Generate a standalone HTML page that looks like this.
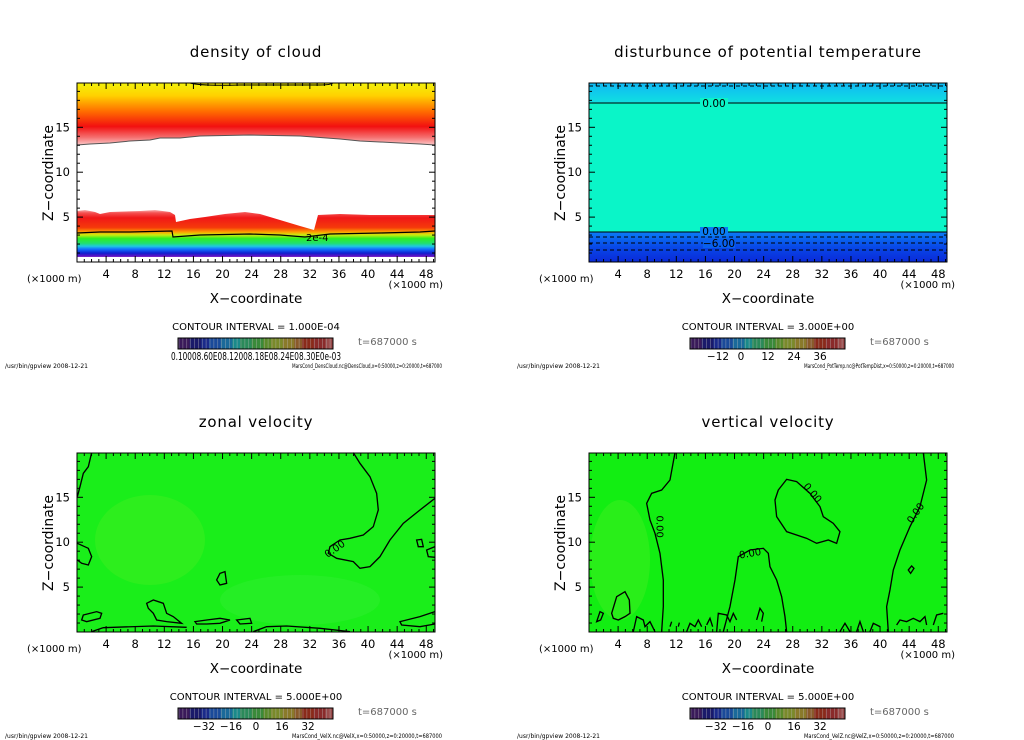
<!DOCTYPE html>
<html><head><meta charset="utf-8">
<style>
html,body{margin:0;padding:0;background:#fff;}
svg{display:block;font-family:"DejaVu Sans","Liberation Sans",sans-serif;}
</style></head><body>
<svg id="s" width="1024" height="740" xmlns="http://www.w3.org/2000/svg">
<defs>
<linearGradient id="cloudTop" x1="0" y1="83" x2="0" y2="147" gradientUnits="userSpaceOnUse">
<stop offset="0" stop-color="#f2f20a"/><stop offset="0.2" stop-color="#ffd000"/><stop offset="0.45" stop-color="#ff6a00"/><stop offset="0.68" stop-color="#f21010"/><stop offset="0.85" stop-color="#f57070"/><stop offset="1" stop-color="#fde0e0"/>
</linearGradient>
<linearGradient id="cloudBot" x1="0" y1="209" x2="0" y2="258" gradientUnits="userSpaceOnUse">
<stop offset="0" stop-color="#fbd0d0"/><stop offset="0.08" stop-color="#f45050"/><stop offset="0.18" stop-color="#f01818"/><stop offset="0.38" stop-color="#f53a0a"/><stop offset="0.47" stop-color="#ffa000"/><stop offset="0.53" stop-color="#c8ee10"/><stop offset="0.6" stop-color="#30ee20"/><stop offset="0.7" stop-color="#20e070"/><stop offset="0.76" stop-color="#20c8e0"/><stop offset="0.82" stop-color="#1070ff"/><stop offset="0.9" stop-color="#1020d0"/><stop offset="0.97" stop-color="#6a10c0"/><stop offset="1" stop-color="#ffffff"/>
</linearGradient>
<linearGradient id="ptBot" x1="0" y1="232" x2="0" y2="262" gradientUnits="userSpaceOnUse">
<stop offset="0" stop-color="#0a7cf5"/><stop offset="0.5" stop-color="#0848e8"/><stop offset="1" stop-color="#0a2ad8"/>
</linearGradient>
<linearGradient id="ptTop" x1="0" y1="83" x2="0" y2="103" gradientUnits="userSpaceOnUse">
<stop offset="0" stop-color="#10b8f5"/><stop offset="1" stop-color="#10e0e0"/>
</linearGradient>
</defs>
<g id="root"></g>
</svg>
<script>
var root=document.getElementById('root');
var h='';
function panel(ox,oy,title,ci,cbl,foot,fill){
 var x0=77+ox,y0=83+oy,w=358,hh=179;
 h+='<text x="'+(256+ox)+'" y="'+(57+oy)+'" font-size="15" text-anchor="middle" letter-spacing="0.8">'+title+'</text>';
 h+=fill(x0,y0,w,hh);
 h+='<rect x="'+x0+'" y="'+y0+'" width="'+w+'" height="'+hh+'" fill="none" stroke="#000" stroke-width="1"/>';
 var sx=358/49.2;
 for(var v=1;v<=49;v++){var X=x0+v*sx,L=(v%4==0)?6:3;
  h+='<line x1="'+X+'" y1="'+(y0+hh)+'" x2="'+X+'" y2="'+(y0+hh-L)+'" stroke="#000"/><line x1="'+X+'" y1="'+y0+'" x2="'+X+'" y2="'+(y0+L)+'" stroke="#000"/>';
  if(v%4==0)h+='<text x="'+X+'" y="'+(y0+hh+16)+'" font-size="11.5" text-anchor="middle">'+v+'</text>';}
 for(var z=1;z<=19;z++){var Y=y0+hh-z*8.98,L=(z%5==0)?6:3;
  h+='<line x1="'+x0+'" y1="'+Y+'" x2="'+(x0+L)+'" y2="'+Y+'" stroke="#000"/><line x1="'+(x0+w)+'" y1="'+Y+'" x2="'+(x0+w-L)+'" y2="'+Y+'" stroke="#000"/>';
  if(z%5==0)h+='<text x="'+(x0-7)+'" y="'+(Y+4)+'" font-size="11.5" text-anchor="end">'+z+'</text>';}
 h+='<text transform="translate('+(53+ox)+','+(y0+90)+') rotate(-90)" font-size="14" text-anchor="middle">Z−coordinate</text>';
 h+='<text x="'+(27+ox)+'" y="'+(282+oy)+'" font-size="10">(×1000 m)</text>';
 h+='<text x="'+(443+ox)+'" y="'+(288+oy)+'" font-size="10" text-anchor="end">(×1000 m)</text>';
 h+='<text x="'+(256+ox)+'" y="'+(303+oy)+'" font-size="13.5" text-anchor="middle">X−coordinate</text>';
 h+='<text x="'+(256+ox)+'" y="'+(330+oy)+'" font-size="10" text-anchor="middle">CONTOUR INTERVAL = '+ci+'</text>';
 var cx=178+ox,cy=338+oy,cw=155,cols=['#3a1a5a','#1a1a6a','#1a2a8a','#1a4a9a','#1a6a9a','#1a8a8a','#2a8a5a','#3a8a3a','#5a8a2a','#7a8a2a','#8a7a2a','#8a5a2a','#8a2a1a','#8a2a2a','#9a4a4a'];
 for(var i=0;i<40;i++){var c=cols[Math.floor(i*cols.length/40)];h+='<rect x="'+(cx+i*cw/40)+'" y="'+cy+'" width="'+(cw/40+0.3)+'" height="11" fill="'+c+'"/><line x1="'+(cx+i*cw/40+1)+'" y1="'+cy+'" x2="'+(cx+i*cw/40+1)+'" y2="'+(cy+11)+'" stroke="#bbb" stroke-width="0.6" opacity="0.6"/>';}
 h+='<rect x="'+cx+'" y="'+cy+'" width="'+cw+'" height="11" fill="none" stroke="#000"/>';
 h+=cbl(cx,cy+22);
 h+='<text x="'+(358+ox)+'" y="'+(345+oy)+'" font-size="10" fill="#666">t=687000 s</text>';
 h+='<text x="'+(5+ox)+'" y="'+(368+oy)+'" font-size="6">/usr/bin/gpview   2008-12-21</text>';
 h+='<text x="'+(292+ox)+'" y="'+(368+oy)+'" font-size="6" textLength="150" lengthAdjust="spacingAndGlyphs">'+foot+'</text>';
}
function lbls(arr){return function(cx,cy){var s='';arr.forEach(function(a){s+='<text x="'+(cx+a[0])+'" y="'+cy+'" font-size="10.5" text-anchor="middle">'+a[1]+'</text>';});return s;};}
function zp(ox,oy,d,extra){return '<g transform="translate('+ox+','+oy+') scale(0.3333)"><path d="'+d+'" fill="none" stroke="#000" stroke-width="4" '+(extra||'')+'/></g>';}
function zt(ox,oy,x,y,t,rot){return '<text transform="translate('+(ox+x/3)+','+(oy+y/3)+') rotate('+(rot||0)+')" font-size="10" text-anchor="middle">'+t+'</text>';}

panel(0,0,'density of cloud','1.000E-04',function(cx,cy){return '<text x="'+(cx+78)+'" y="'+cy+'" font-size="10.5" text-anchor="middle" textLength="170" lengthAdjust="spacingAndGlyphs">0.10008.60E08.12008.18E08.24E08.30E0e-03</text>';},
 'MarsCond_DensCloud.nc@DensCloud,x=0:50000,z=0:20000,t=687000',
 function(x0,y0,w,hh){var s='';
  s+='<rect x="'+x0+'" y="'+y0+'" width="'+w+'" height="'+hh+'" fill="#fff"/>';
  s+='<path d="M77 83 H435 V145 L420 144 L400 143 L380 142 L360 141 L340 139 L300 136 L250 135 L200 136 L180 138 L160 138 L150 140 L130 141 L110 143 L90 144 L77 145 Z" fill="url(#cloudTop)"/>';
  s+='<path d="M77 211 L85 210 L95 212 L100 214 L110 212 L140 211 L155 210 L170 212 L175 215 L176 222 L190 219 L205 217 L225 214 L245 212 L260 214 L280 220 L300 226 L314 230 L318 215 L340 214 L370 215 L400 215 L435 215 L435 257 L77 257 Z" fill="url(#cloudBot)"/>';
  s+='<path d="M77 233 L100 232 L130 232 L172 231 L173 237 L200 235 L250 234 L280 235 L305 237 L330 234 L380 233 L420 232 L435 231" fill="none" stroke="#000" stroke-width="1.2"/>';
  s+='<path d="M77 145 L90 144 L110 143 L130 141 L150 140 L160 138 L180 138 L200 136 L250 135 L300 136 L340 139 L360 141 L380 142 L400 143 L420 144 L435 145" fill="none" stroke="#555" stroke-width="1"/>';
  s+='<path d="M190 83 Q200 86 240 85 L320 85 Q330 85 333 83" fill="none" stroke="#000" stroke-width="1"/>';
  s+='<text x="306" y="241" font-size="10">2e-4</text>';
  return s;});

panel(512,0,'disturbunce of potential temperature','3.000E+00',lbls([[28,'−12'],[51,'0'],[78,'12'],[104,'24'],[130,'36']]),
 'MarsCond_PotTemp.nc@PotTempDist,x=0:50000,z=0:20000,t=687000',
 function(x0,y0,w,hh){var s='';
  s+='<rect x="'+x0+'" y="'+y0+'" width="'+w+'" height="'+hh+'" fill="#0af5c8"/>';
  s+='<rect x="'+x0+'" y="'+y0+'" width="'+w+'" height="20" fill="url(#ptTop)"/>';
  s+='<rect x="'+x0+'" y="232" width="'+w+'" height="30" fill="url(#ptBot)"/>';
  s+='<line x1="'+x0+'" y1="103" x2="'+(x0+w)+'" y2="103" stroke="#000"/>';
  s+='<line x1="'+x0+'" y1="232" x2="'+(x0+w)+'" y2="232" stroke="#000"/>';
  s+='<line x1="'+x0+'" y1="86" x2="'+(x0+w)+'" y2="86" stroke="#000" stroke-dasharray="4,3"/>';
  [237,243,250].forEach(function(y){s+='<line x1="'+x0+'" y1="'+y+'" x2="'+(x0+w)+'" y2="'+y+'" stroke="#000" stroke-dasharray="4,3"/>';});
  s+='<rect x="700" y="98" width="28" height="10" fill="#0af5c8"/><text x="714" y="107" font-size="10.5" text-anchor="middle">0.00</text>';
  s+='<rect x="700" y="227" width="28" height="9" fill="#0a7cf5"/><text x="714" y="235" font-size="10.5" text-anchor="middle">0.00</text>';
  s+='<rect x="703" y="239" width="32" height="9" fill="#0860ee"/><text x="719" y="247" font-size="10.5" text-anchor="middle">−6.00</text>';
  return s;});

panel(0,370,'zonal velocity','5.000E+00',lbls([[26,'−32'],[53,'−16'],[78,'0'],[104,'16'],[130,'32']]),
 'MarsCond_VelX.nc@VelX,x=0:50000,z=0:20000,t=687000',
 function(x0,y0,w,hh){var s='';
  s+='<rect x="'+x0+'" y="'+y0+'" width="'+w+'" height="'+hh+'" fill="#1aee1a"/>';
  s+='<ellipse cx="150" cy="540" rx="55" ry="45" fill="#3aee20" opacity="0.6"/>';
  s+='<ellipse cx="300" cy="600" rx="80" ry="25" fill="#30ee30" opacity="0.5"/>';
  var ox=20,oy=440;
  s+=zp(ox,oy,'M215 38 L205 80 L190 100 L180 140 L172 170');
  s+=zp(ox,oy,'M172 310 L205 325 L215 350 L205 375 L185 370 L172 360');
  s+=zp(ox,oy,'M600 400 L615 395 L620 430 L600 435 L590 420 Z');
  s+=zp(ox,oy,'M1000 38 L1020 70 L1050 110 L1070 160 L1075 210 L1060 260 L1030 285 L990 295 L960 300 L930 320 L925 340 L950 355 L1000 365 L1020 385 L1050 380 L1080 350 L1110 300 L1150 250 L1200 210 L1245 175');
  s+=zp(ox,oy,'M1190 300 L1205 298 L1210 320 L1195 320 Z M1245 320 L1220 330 L1225 350 L1245 352');
  s+=zp(ox,oy,'M380 490 L400 480 L430 490 L440 520 L460 530 L485 550 L440 545 L410 540 L400 520 L385 505 Z');
  s+=zp(ox,oy,'M190 525 L230 515 L245 520 L240 535 L200 545 L185 540 Z');
  s+=zp(ox,oy,'M525 545 L560 540 L600 535 L630 540 L600 550 L560 552 L530 552 Z M650 540 L690 535 L695 550 L660 552 Z');
  s+=zp(ox,oy,'M215 575 L250 563 L400 558 L500 562 M700 575 L740 560 L800 558 L900 565 L990 575');
  s+=zp(ox,oy,'M1245 515 L1200 530 L1140 545 L1145 555 L1200 560 L1245 552');
  s+=zt(ox,oy,950,335,'0.00',-35);
  return s;});

panel(512,370,'vertical velocity','5.000E+00',lbls([[26,'−32'],[53,'−16'],[78,'0'],[104,'16'],[130,'32']]),
 'MarsCond_VelZ.nc@VelZ,x=0:50000,z=0:20000,t=687000',
 function(x0,y0,w,hh){var s='';
  s+='<rect x="'+x0+'" y="'+y0+'" width="'+w+'" height="'+hh+'" fill="#12ee12"/>';
  s+='<ellipse cx="620" cy="560" rx="30" ry="60" fill="#40ee20" opacity="0.5"/>';
  var ox=530,oy=440;
  s+=zp(ox,oy,'M435 38 L420 120 L395 150 L365 160 L350 190 L360 240 L375 280 L390 340 L400 420 L400 500 L395 575');
  s+=zp(ox,oy,'M745 150 L770 118 L800 125 L840 160 L870 200 L880 230 L910 250 L930 275 L920 310 L895 300 L860 310 L830 295 L770 275 L740 230 L735 180 Z');
  s+=zp(ox,oy,'M580 575 L600 500 L615 420 L625 350 L660 330 L700 325 L715 340 L720 380 L740 420 L755 470 L765 530 L770 575');
  s+=zp(ox,oy,'M1180 38 L1190 120 L1170 200 L1140 260 L1110 330 L1090 390 L1080 450 L1070 500 L1075 575');
  s+=zp(ox,oy,'M1135 390 L1145 378 L1152 385 L1142 400 Z');
  s+=zp(ox,oy,'M245 520 L260 470 L285 455 L298 480 L300 520 L285 530 L265 540 L250 535 Z M200 545 L210 515 L220 520 L212 540 Z');
  s+=zp(ox,oy,'M310 575 L320 530 L340 540 L345 560 L360 545 L375 575 M420 560 L425 545 M445 560 L448 548 M470 575 L480 550 L495 560 L505 540 L515 560 M530 555 L540 535 L548 560 M560 575 L565 520 L590 525 L600 545 L610 520 L620 540 M680 540 L690 505 L700 520 L695 545 M930 575 L945 550 L960 575 M980 575 L990 545 L1000 575 M1020 575 L1030 550 L1050 560 M1100 555 L1110 540 L1130 545 L1150 535 L1170 545 L1185 530 L1190 555 M1210 555 L1220 525 L1240 520');
  s+=zt(ox,oy,380,260,'0.00',90);
  s+=zt(ox,oy,662,350,'0.00',-10);
  s+=zt(ox,oy,840,165,'0.00',50);
  s+=zt(ox,oy,1165,225,'0.00',-55);
  return s;});

root.innerHTML=h;
</script>
</body></html>
